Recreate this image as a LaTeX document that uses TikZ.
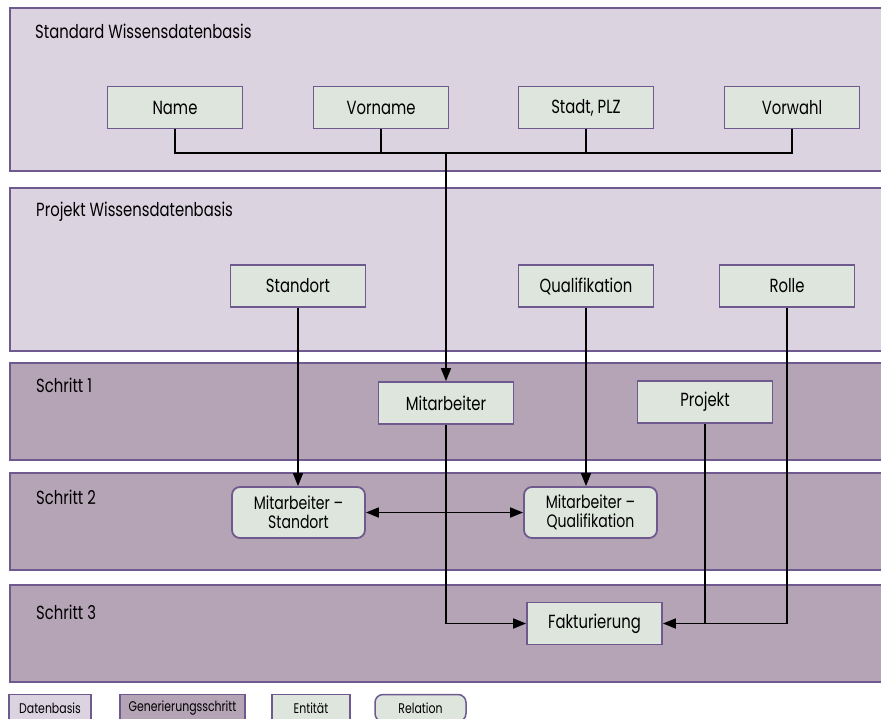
\documentclass[tikz,border=0pt]{standalone}
\usepackage{fontspec}
\setmainfont{Poppins}[FakeStretch=0.78]
\usetikzlibrary{arrows.meta}
\definecolor{dbfill}{HTML}{DCD3E0}
\definecolor{stepfill}{HTML}{B5A4B6}
\definecolor{entfill}{HTML}{DDE5DC}
\definecolor{pborder}{HTML}{6E5A8E}
\tikzset{
  dbpanel/.style={draw=pborder, line width=2pt, fill=dbfill},
  steppanel/.style={draw=pborder, line width=2pt, fill=stepfill},
  paneltitle/.style={anchor=west, inner sep=0pt, font=\fontsize{19}{21}\selectfont},
  ent/.style={draw=pborder, line width=1.8pt, fill=entfill, minimum width=135pt, minimum height=42pt, inner sep=2pt, font=\fontsize{19}{21}\selectfont},
  rel/.style={ent, rounded corners=8pt, minimum height=51pt, minimum width=133pt, align=center, font=\fontsize{18}{19}\selectfont},
  conn/.style={line width=1.7pt, black},
  arr/.style={conn, -{Triangle[length=13pt,width=10pt]}},
  darr/.style={conn, {Triangle[length=13pt,width=10pt]}-{Triangle[length=13pt,width=10pt]}},
  legend/.style={draw=pborder, line width=1.5pt, minimum height=27pt, inner sep=2pt, font=\fontsize{14}{16}\selectfont}
}
\begin{document}
\begin{tikzpicture}[x=1pt,y=-1pt]
\useasboundingbox (0,0) rectangle (881,718);
\clip (0,0) rectangle (881,718);
% panels
\draw[dbpanel] (10,8) rectangle (895,171);
\draw[dbpanel] (10,188) rectangle (895,351);
\draw[steppanel] (10,363) rectangle (895,460);
\draw[steppanel] (10,473) rectangle (895,570);
\draw[steppanel] (10,585) rectangle (895,682);
\node[paneltitle] (t1) at (35,31) {Standard Wissensdatenbasis};
\node[paneltitle] (t2) at (36,212) {Projekt Wissensdatenbasis};
\node[paneltitle] (t3) at (36,385) {Schritt 1};
\node[paneltitle] (t4) at (36,497) {Schritt 2};
\node[paneltitle] (t5) at (36,612) {Schritt 3};
% entities
\node[ent] (name) at (175,107.5) {Name};
\node[ent] (vorname) at (381,107.5) {Vorname};
\node[ent] (stadt) at (586,107.5) {Stadt, PLZ};
\node[ent] (vorwahl) at (792,107.5) {Vorwahl};
\node[ent] (standort) at (298,286) {Standort};
\node[ent] (qual) at (586,286) {Qualifikation};
\node[ent] (rolle) at (787,286) {Rolle};
\node[ent] (mit) at (446,403) {Mitarbeiter};
\node[ent] (projekt) at (705,402) {Projekt};
\node[rel] (ms) at (298.5,512.5) {Mitarbeiter –\\Standort};
\node[rel] (mq) at (590.5,512.5) {Mitarbeiter –\\Qualifikation};
\node[ent] (fakt) at (594.5,623.5) {Fakturierung};
% connectors
\coordinate (bus) at (446,153);
\draw[conn] (name.south) -- (name |- bus) -- (vorwahl |- bus) -- (vorwahl.south);
\draw[conn] (vorname.south) -- (vorname |- bus);
\draw[conn] (stadt.south) -- (stadt |- bus);
\draw[arr] (bus) -- (mit.north);
\draw[arr] (standort.south) -- (standort |- ms.north);
\draw[arr] (qual.south) -- (qual |- mq.north);
\draw[darr] (ms.east) -- (mq.west);
\draw[arr] (mit.south) |- (fakt.west);
\draw[conn] (projekt.south) -- (projekt |- fakt.east);
\draw[arr] (rolle.south) |- (fakt.east);
% legend
\node[legend, fill=dbfill, minimum width=82pt] (l1) at (50,708) {Datenbasis};
\node[legend, fill=stepfill, minimum width=125pt] (l2) at (182.5,708) {Generierungsschritt};
\node[legend, fill=entfill, minimum width=78pt] (l3) at (311,708) {Entität};
\node[legend, fill=entfill, minimum width=91pt, rounded corners=8pt] (l4) at (420.5,708) {Relation};
\end{tikzpicture}
\end{document}
